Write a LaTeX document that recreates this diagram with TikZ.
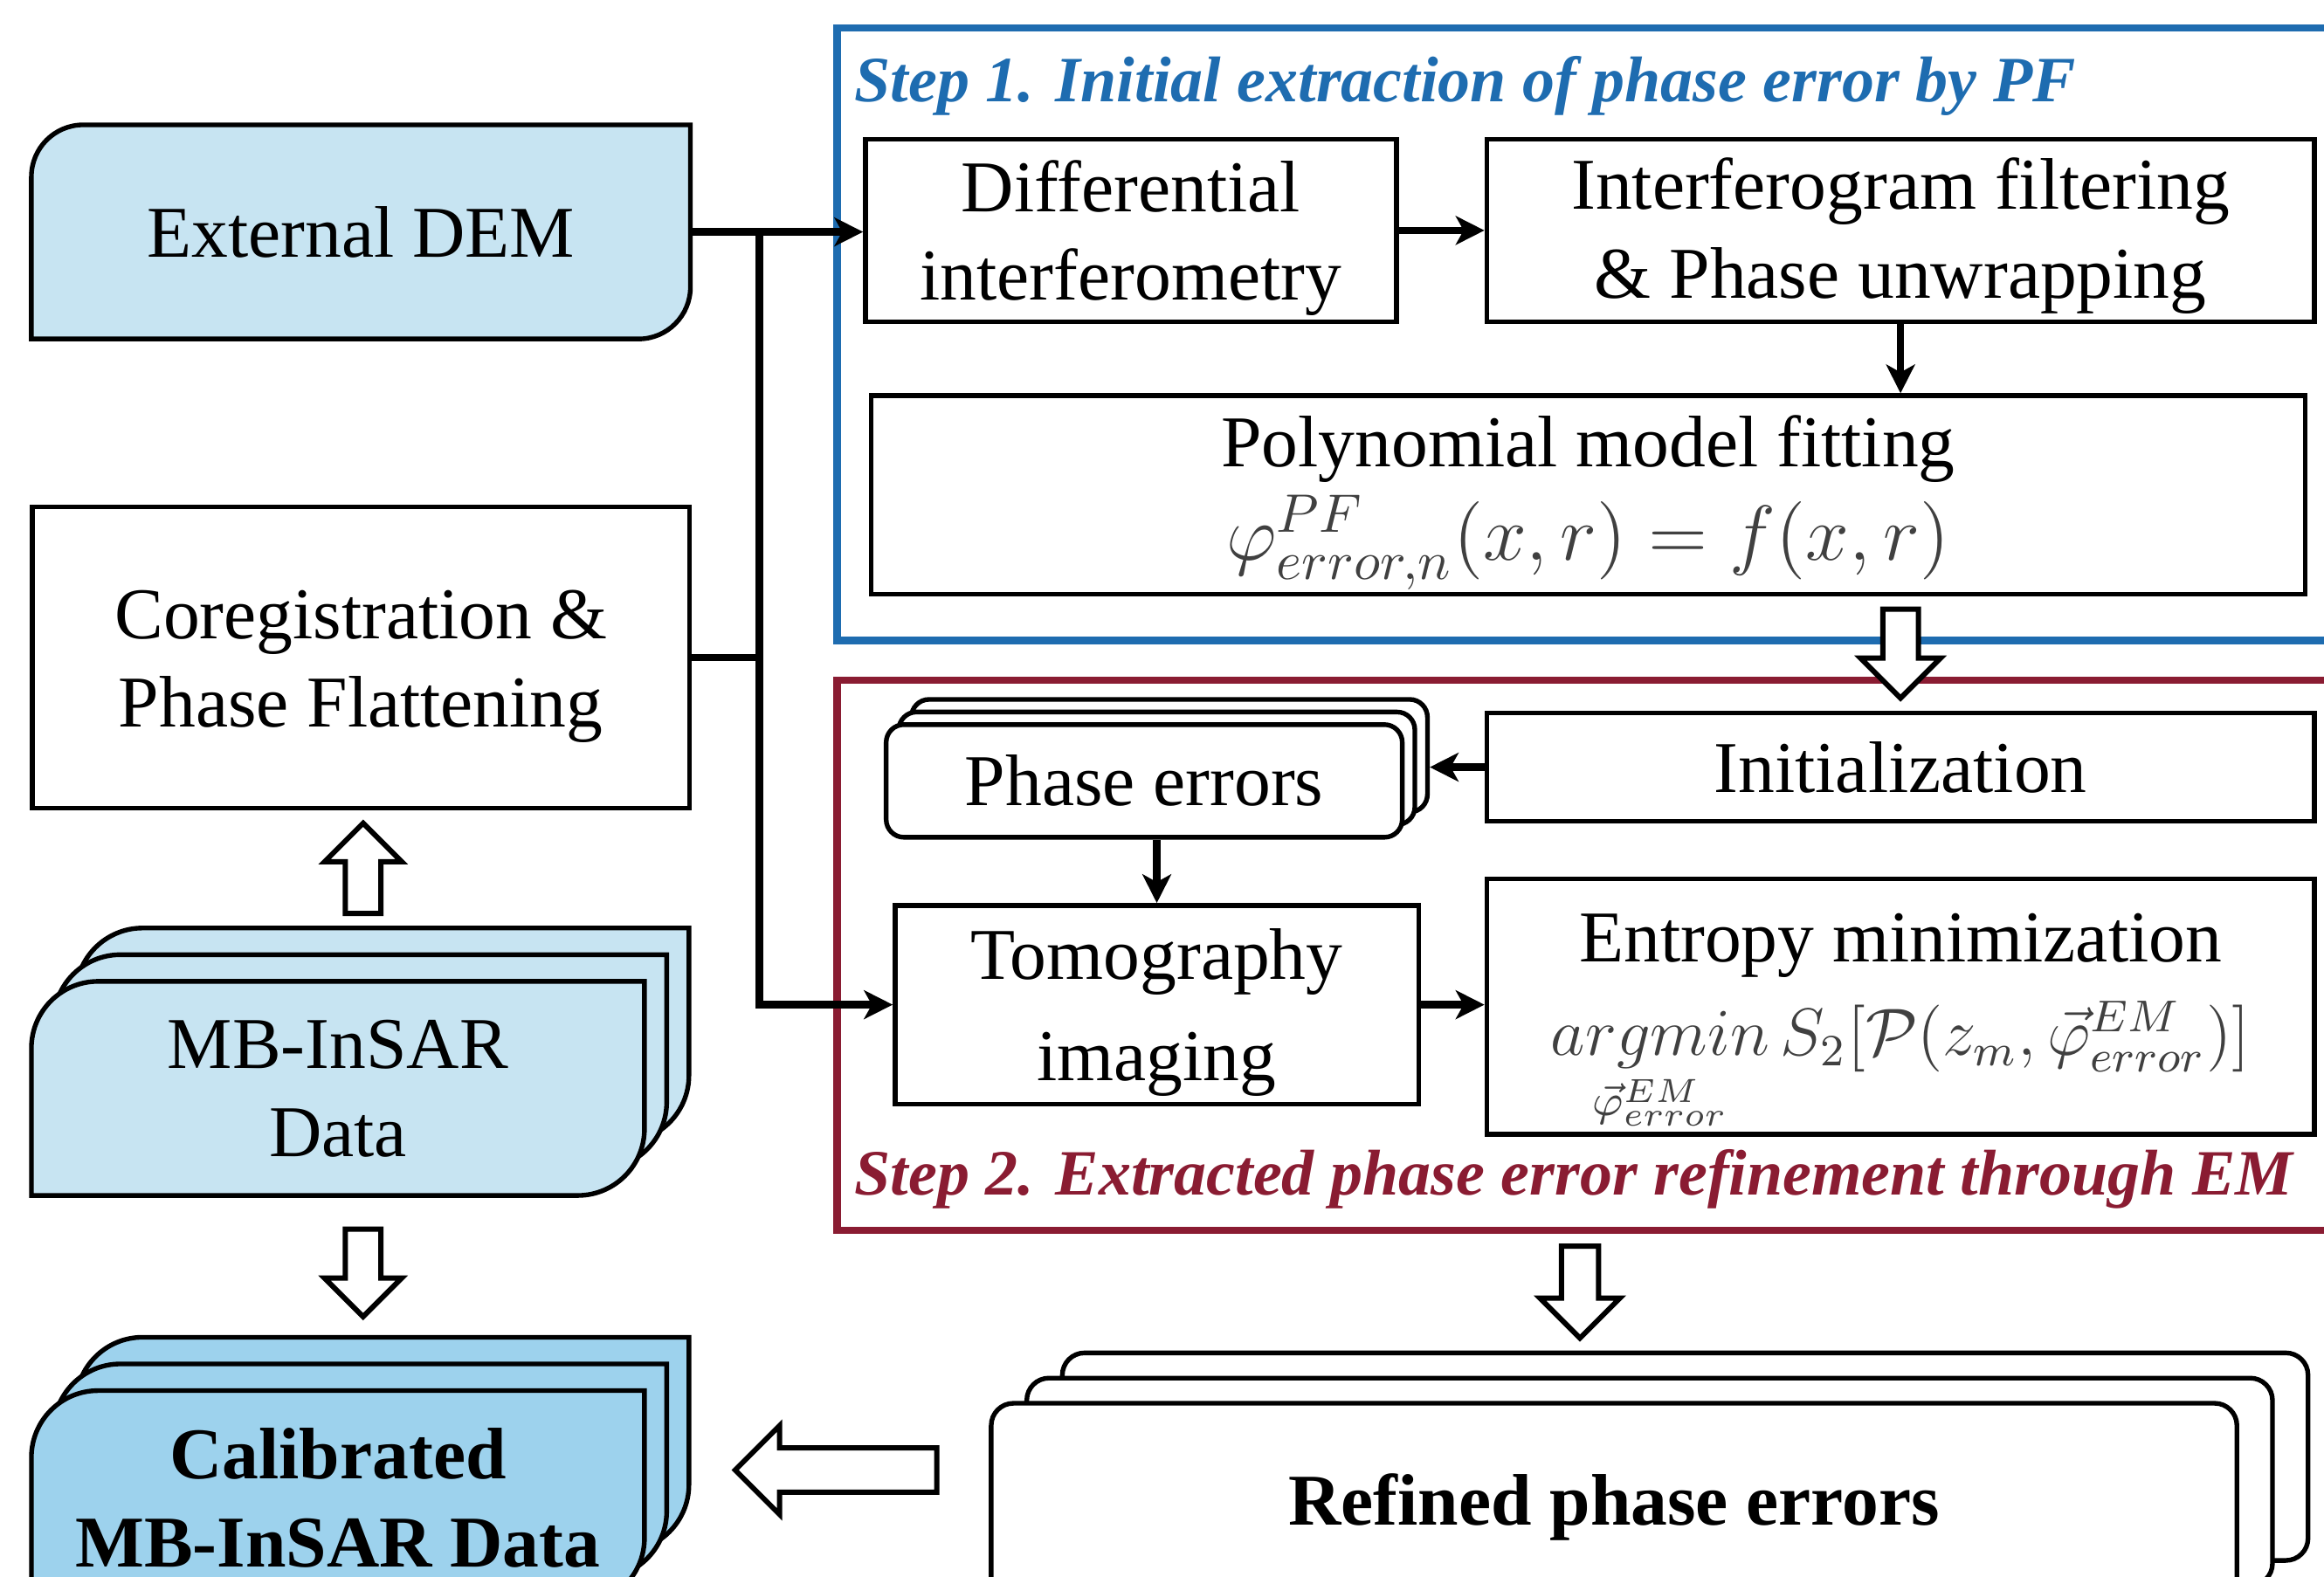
\documentclass[tikz,border=0pt]{standalone}
\usepackage{fontspec}
\setmainfont{Liberation Serif}
\usepackage{amsmath}
\usepackage{xcolor}
\usetikzlibrary{positioning, arrows.meta, calc, backgrounds}

\definecolor{stepblue}{RGB}{30,108,176}
\definecolor{stepred}{RGB}{138,28,50}
\definecolor{datablue}{RGB}{199,228,242}
\definecolor{calibblue}{RGB}{157,210,237}
\definecolor{formgray}{RGB}{64,64,64}

% data block: rounded top left and bottom right corners
\newcommand{\datashape}[3]{%
  \filldraw[fill=#2, line width=0.9pt] (#1.south west) -- ([yshift=-#3]#1.north west)
    arc[start angle=180, end angle=90, radius=#3] -- (#1.north east)
    -- ([yshift=#3]#1.south east) arc[start angle=0, end angle=-90, radius=#3] -- cycle;}

% hollow block arrow: position, angle, length, half shaft, half head
\newcommand{\fatarrow}[5]{%
  \draw[fatline, shift={#1}, rotate=#2]
    ({-#3/2},{-#4}) -- ({#3/2-#5},{-#4}) -- ({#3/2-#5},{-#5}) -- ({#3/2},0)
    -- ({#3/2-#5},{#5}) -- ({#3/2-#5},{#4}) -- ({-#3/2},{#4}) -- cycle;}

\begin{document}
\begin{tikzpicture}[x=0.01cm, y=-0.01cm, node distance=3cm,
    >={Stealth[length=5.5pt, width=5.5pt, inset=1.5pt]},
    every node/.style={font=\fontsize{14}{17}\selectfont},
    box/.style={rectangle, draw, line width=0.9pt, fill=white, inner sep=0pt, align=center},
    stack/.style={rectangle, draw, line width=0.9pt, fill=white, rounded corners=0.12cm, inner sep=0pt, align=center},
    data/.style={rectangle, inner sep=0pt, align=center},
    frame/.style={rectangle, line width=1.4pt, inner sep=0pt},
    title/.style={anchor=base west, inner sep=0pt, font=\fontsize{12.4}{15}\selectfont\bfseries\itshape},
    link/.style={line width=1.4pt},
    fatline/.style={line width=1pt, fill=white, line join=miter}]
    \useasboundingbox (0,0) rectangle (1568,1064);

    \node (step1) [frame, draw=stepblue, minimum width=10.25cm, minimum height=4.13cm] at (1077.5,225.5) {};
    \node (step2) [frame, draw=stepred, minimum width=10.25cm, minimum height=3.71cm] at (1077.5,644.5) {};
    \node (title1) [title, text=stepblue] at (576,68.5) {Step 1. Initial extraction of phase error by PF};
    \node (title2) [title, text=stepred] at (576,806.5) {Step 2. Extracted phase error refinement through EM};

    \node (dem) [data, minimum width=4.43cm, minimum height=1.43cm] at (243.5,156.5) {External DEM};
    \node (coreg) [box, below of=dem, node distance=2.87cm, minimum width=4.43cm, minimum height=2.03cm] {\rule{0pt}{0.45cm}Coregistration \&\\Phase Flattening};
    \node (mbinsar) [data, minimum width=4.12cm, minimum height=1.43cm] at (228,734.5) {MB-InSAR\\Data};
    \node (mb2) [data, minimum width=4.12cm, minimum height=1.43cm] at ([shift={(15,-18)}]mbinsar.center) {};
    \node (mb3) [data, minimum width=4.12cm, minimum height=1.43cm] at ([shift={(30,-36)}]mbinsar.center) {};
    \node (calib) [data, below of=mbinsar, node distance=2.76cm, minimum width=4.12cm, minimum height=1.43cm, font=\fontsize{14}{17}\selectfont\bfseries] {Calibrated\\MB-InSAR Data};
    \node (calib2) [data, minimum width=4.12cm, minimum height=1.43cm] at ([shift={(15,-18)}]calib.center) {};
    \node (calib3) [data, minimum width=4.12cm, minimum height=1.43cm] at ([shift={(30,-36)}]calib.center) {};

    \begin{scope}[on background layer]
        \datashape{dem}{datablue}{0.35cm}
        \datashape{mb3}{datablue}{0.45cm}
        \datashape{mb2}{datablue}{0.45cm}
        \datashape{mbinsar}{datablue}{0.45cm}
        \datashape{calib3}{calibblue}{0.45cm}
        \datashape{calib2}{calibblue}{0.45cm}
        \datashape{calib}{calibblue}{0.45cm}
    \end{scope}

    \node (diff) [box, minimum width=3.58cm, minimum height=1.23cm] at (763,155.5) {\rule{0pt}{0.45cm}Differential\\interferometry};
    \node (interf) [box, right of=diff, node distance=5.19cm, minimum width=5.58cm, minimum height=1.23cm] {\rule{0pt}{0.42cm}Interferogram filtering\\\& Phase unwrapping};
    \node (poly) [box, minimum width=9.67cm, minimum height=1.34cm] at (1071.5,334) {\rule{0pt}{0.45cm}Polynomial model fitting\\[1pt]{\color{formgray}\fontsize{14.4}{17}\selectfont\scalebox{1.04}{$\varphi^{PF}_{error,n}(x,r) = f(x,r)$}}};

    \node (init) [box, below of=interf, node distance=3.62cm, minimum width=5.58cm, minimum height=0.73cm] {Initialization};
    \node (entropy) [box, below of=init, node distance=1.615cm, minimum width=5.58cm, minimum height=1.72cm] {\rule{0pt}{0.55cm}Entropy minimization\\[1pt]{\color{formgray}\fontsize{12}{16}\selectfont\scalebox{1.07}{$\mathop{argmin}\limits_{\vec{\varphi}^{EM}_{error}} S_2[\mathcal{P}(z_m,\vec{\varphi}^{EM}_{error})]$}}};
    \node (perr3) [stack, minimum width=3.48cm, minimum height=0.76cm] at (789,510) {};
    \node (perr2) [stack, minimum width=3.48cm, minimum height=0.76cm] at (780.5,518.5) {};
    \node (perr) [stack, minimum width=3.48cm, minimum height=0.76cm] at (772,527) {Phase errors};
    \node (tomo) [box, minimum width=3.53cm, minimum height=1.34cm] at (780.5,678) {\rule{0pt}{0.45cm}Tomography\\[2.5pt]imaging};

    \node (refined3) [stack, rounded corners=0.15cm, minimum width=8.4cm, minimum height=1.4cm] at (1137,983) {};
    \node (refined2) [stack, rounded corners=0.15cm, minimum width=8.4cm, minimum height=1.4cm] at (1113,1000) {};
    \node (refined) [stack, rounded corners=0.15cm, minimum width=8.4cm, minimum height=1.4cm, font=\fontsize{14}{17}\selectfont\bfseries] at (1089,1017) {Refined phase errors};

    \coordinate (split) at ($(dem.east)!0.4!(diff.west)$);
    \draw[link, ->] (dem.east) -- (dem.east -| diff.west);
    \draw[link] (coreg.east) -- (coreg.east -| split);
    \draw[link, ->] (split) |- (tomo.west);
    \draw[link, ->] (diff.east) -- (interf.west);
    \draw[link, ->] (interf.south) -- (interf.south |- poly.north);
    \draw[link, ->] (init.west) -- (init.west -| perr3.east);
    \draw[link, ->] (perr.south -| tomo.north) -- (tomo.north);
    \draw[link, ->] (tomo.east) -- (tomo.east -| entropy.west);

    \fatarrow{($(poly.south -| init.north)!0.5!(init.north)$)}{-90}{60}{12}{27}
    \fatarrow{(1066,872)}{-90}{62}{12.5}{27}
    \fatarrow{(245,586)}{90}{61}{12}{26}
    \fatarrow{(245,859)}{-90}{59}{12}{26}
    \fatarrow{(564,992)}{180}{136}{15}{30}
\end{tikzpicture}
\end{document}
